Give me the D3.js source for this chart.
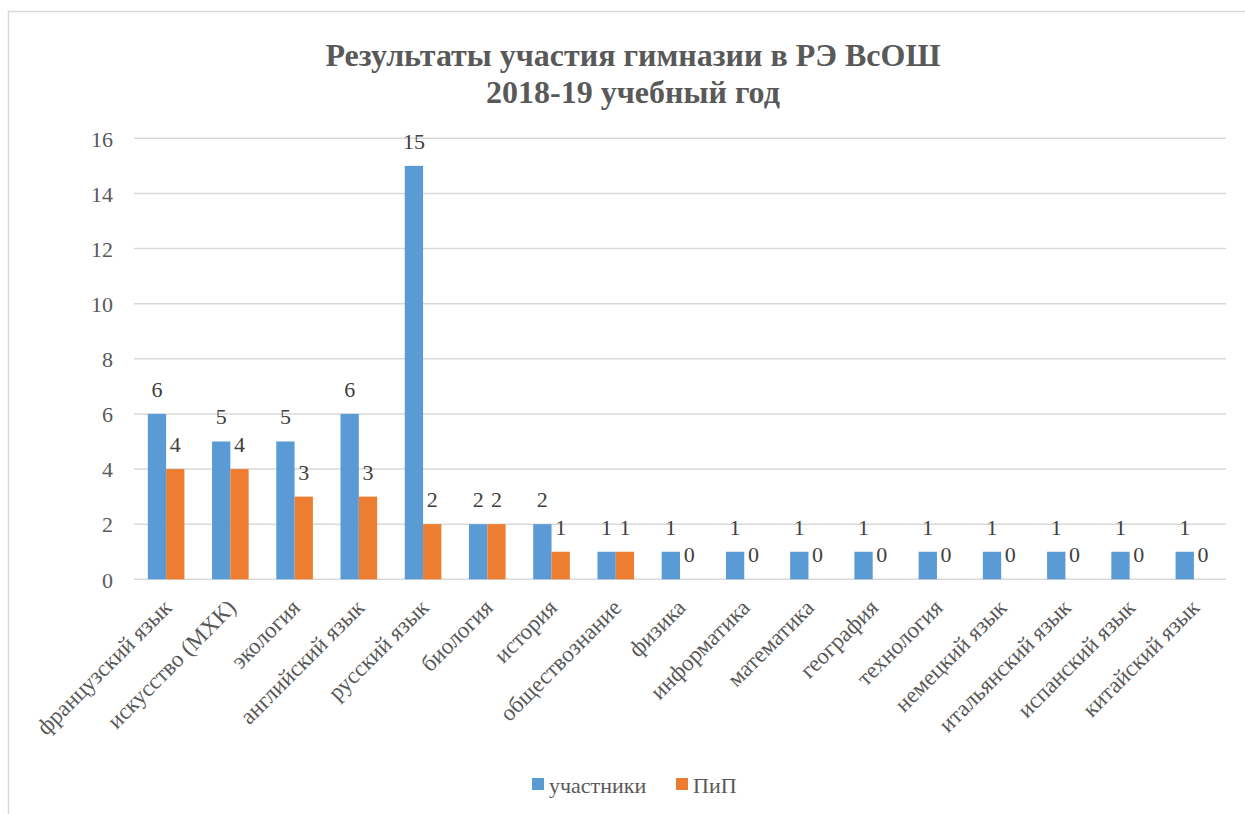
<!DOCTYPE html>
<html>
<head>
<meta charset="utf-8">
<script src="https://d3js.org/d3.v7.min.js"></script>
<style>
  body { margin: 0; background: #fff; }
  svg { display: block; }
  svg text { font-family: "Liberation Serif", "DejaVu Serif", serif; }
</style>
</head>
<body>
<div id="chart"></div>
<script>
var categories = ["французский язык", "искусство (МХК)", "экология", "английский язык",
    "русский язык", "биология", "история", "обществознание", "физика", "информатика",
    "математика", "география", "технология", "немецкий язык", "итальянский язык",
    "испанский язык", "китайский язык"];
var seriesNames = ["участники", "ПиП"];
var participants = [6, 5, 5, 6, 15, 2, 2, 1, 1, 1, 1, 1, 1, 1, 1, 1, 1];
var winners = [4, 4, 3, 3, 2, 2, 1, 1, 0, 0, 0, 0, 0, 0, 0, 0, 0];
var yTicks = [0, 2, 4, 6, 8, 10, 12, 14, 16];
var titleLines = ["Результаты участия гимназии в РЭ ВсОШ", "2018-19 учебный год"];

var colors = ["#5B9BD5", "#ED7D31"];
var w = 1245, h = 814;

var rows = categories.map(function(c, i) {
    return { name: c, values: [participants[i], winners[i]] };
});

var svg = d3.select("#chart").append("svg")
    .attr("width", w)
    .attr("height", h);

// outer frame
svg.append("rect")
    .attr("x", 8.5)
    .attr("y", 11.5)
    .attr("width", w)
    .attr("height", h)
    .attr("fill", "#fff")
    .attr("stroke", "#d9d9d9")
    .attr("stroke-width", 1.5);

// title
svg.append("text")
    .attr("text-anchor", "middle")
    .style("font-weight", "bold")
    .style("font-size", "32px")
    .attr("fill", "#595959")
    .selectAll("tspan")
    .data(titleLines)
    .enter().append("tspan")
    .attr("x", 633)
    .attr("y", function(d, i) { return 66 + i * 37; })
    .text(function(d) { return d; });

var x0 = d3.scaleBand()
    .domain(categories)
    .range([134, 1226])
    .paddingInner(0.43)
    .paddingOuter(0.215);

var x1 = d3.scaleBand()
    .domain([0, 1])
    .range([0, x0.bandwidth()]);

var y = d3.scaleLinear()
    .domain([0, 16])
    .range([579.3, 138.3]);

// gridlines
svg.append("g")
    .selectAll("line")
    .data(yTicks)
    .enter().append("line")
    .attr("x1", 134)
    .attr("x2", 1226)
    .attr("y1", function(d) { return y(d); })
    .attr("y2", function(d) { return y(d); })
    .attr("stroke", "#d9d9d9")
    .attr("stroke-width", 1.5);

// y axis labels
var yAxis = d3.axisLeft(y).tickValues(yTicks).tickSize(0).tickPadding(21);
var yg = svg.append("g")
    .attr("transform", "translate(134,0)")
    .call(yAxis)
    .attr("font-family", null);
yg.select(".domain").remove();
yg.selectAll("text")
    .style("font-size", "22px")
    .attr("fill", "#595959")
    .attr("dy", "0.35em");

// bars
var group = svg.append("g")
    .selectAll("g.cat")
    .data(rows)
    .enter().append("g")
    .attr("class", "cat")
    .attr("transform", function(d) { return "translate(" + x0(d.name) + ",0)"; });

group.selectAll("rect")
    .data(function(d) { return d.values; })
    .enter().append("rect")
    .attr("x", function(d, i) { return x1(i); })
    .attr("y", function(d) { return y(d); })
    .attr("width", x1.bandwidth())
    .attr("height", function(d) { return y(0) - y(d); })
    .attr("fill", function(d, i) { return colors[i]; });

// value labels
group.selectAll("text")
    .data(function(d) { return d.values; })
    .enter().append("text")
    .attr("x", function(d, i) { return x1(i) + x1.bandwidth() / 2; })
    .attr("y", function(d) { return y(d) - 17; })
    .attr("text-anchor", "middle")
    .style("font-size", "22px")
    .attr("fill", "#404040")
    .text(function(d) { return d; });

// category labels, rotated
svg.append("g")
    .selectAll("text")
    .data(categories)
    .enter().append("text")
    .attr("transform", function(d) {
        var cx = x0(d) + x0.bandwidth() / 2 + 7;
        return "translate(" + cx + ",609)rotate(-45)";
    })
    .attr("text-anchor", "end")
    .style("font-size", "23px")
    .attr("fill", "#595959")
    .text(function(d) { return d; });

// legend
var legendX = [532, 676];
var legend = svg.append("g")
    .selectAll("g")
    .data(seriesNames)
    .enter().append("g")
    .attr("transform", function(d, i) { return "translate(" + legendX[i] + ",778)"; });

legend.append("rect")
    .attr("width", 12)
    .attr("height", 12)
    .attr("fill", function(d, i) { return colors[i]; });

legend.append("text")
    .attr("x", 17)
    .attr("y", 15)
    .style("font-size", "22px")
    .attr("fill", "#595959")
    .text(function(d) { return d; });
</script>
</body>
</html>
